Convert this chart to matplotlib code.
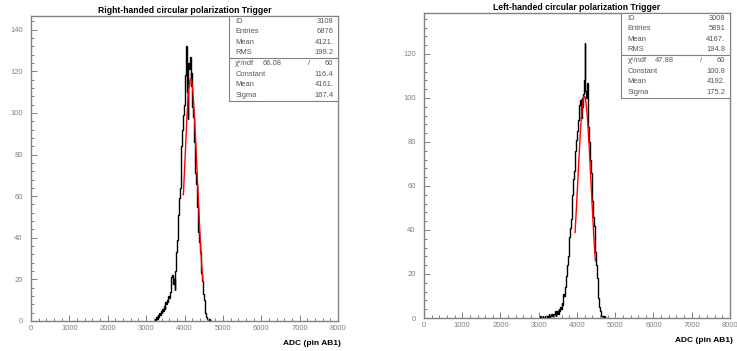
import numpy as np
import matplotlib.pyplot as plt
from matplotlib.patches import Rectangle
from matplotlib.ticker import MultipleLocator

plt.rcParams['font.family'] = ['Liberation Sans', 'DejaVu Sans']

bin_width = 20

# right-handed trigger, counts per bin starting at r_start
r_start = 3200
r_counts = [0, 1, 0, 2, 1, 3, 2, 4, 3, 5,
            4, 6, 5, 7, 6, 9, 8, 10, 9, 12,
            11, 14, 17, 21, 22, 18, 20, 15, 24, 33,
            39, 46, 51, 59, 64, 76, 84, 92, 99, 104,
            107, 118, 132, 110, 97, 124, 121, 127, 113, 119,
            103, 98, 86, 79, 71, 66, 55, 49, 43, 38,
            33, 28, 23, 19, 13, 10, 6, 4, 2, 1,
            1, 0, 1, 0, 0, 0]
r_stats = [("ID", "3108"), ("Entries", "6876"), ("Mean", "4121."), ("RMS", "199.2")]
r_chi2 = ("66.08", "60")
r_pars = [("Constant", 116.4, "116.4"), ("Mean", 4161.0, "4161."), ("Sigma", 167.4, "167.4")]
r_fit_range = (3970, 4480)

# left-handed trigger
l_start = 3000
l_counts = [0, 0, 1, 0, 0, 1, 0, 0, 1, 0,
            1, 0, 1, 2, 0, 1, 2, 1, 2, 1,
            2, 3, 1, 2, 3, 2, 4, 3, 5, 4,
            7, 6, 11, 10, 14, 17, 19, 24, 28, 34,
            37, 41, 45, 52, 56, 63, 67, 72, 76, 81,
            85, 90, 94, 97, 99, 91, 100, 96, 102, 108,
            125, 103, 100, 107, 95, 87, 80, 72, 66, 58,
            53, 46, 42, 34, 30, 24, 18, 12, 9, 5,
            3, 2, 1, 1, 0, 1, 0, 0, 0, 0]
l_stats = [("ID", "3008"), ("Entries", "5891"), ("Mean", "4167."), ("RMS", "194.8")]
l_chi2 = ("47.88", "60")
l_pars = [("Constant", 100.8, "100.8"), ("Mean", 4192.0, "4192."), ("Sigma", 175.2, "175.2")]
l_fit_range = (3950, 4480)

gray = '#808080'
txt = '#555555'


def draw(ax, start, counts, ymax, title, stats, chi2, pars, fit_range):
    edges = start + bin_width * np.arange(len(counts) + 1)
    ax.stairs(counts, edges, color='black', lw=1.0)
    const, mean, sigma = [p[1] for p in pars]
    xf = np.linspace(fit_range[0], fit_range[1], 200)
    ax.plot(xf, const * np.exp(-0.5 * ((xf - mean) / sigma) ** 2), color='red', lw=1.0)

    ax.set_xlim(0, 8000)
    ax.set_ylim(0, ymax)
    ax.xaxis.set_major_locator(MultipleLocator(1000))
    ax.xaxis.set_minor_locator(MultipleLocator(200))
    ax.yaxis.set_major_locator(MultipleLocator(20))
    ax.yaxis.set_minor_locator(MultipleLocator(4))
    ax.tick_params(which='both', direction='in', colors=gray, labelsize=5.5,
                   labelcolor=gray, width=0.7)
    ax.tick_params(which='major', length=4)
    ax.tick_params(which='minor', length=2)
    ax.tick_params(axis='y', pad=6)
    ax.tick_params(axis='x', pad=3)
    for s in ax.spines.values():
        s.set_color(gray)
        s.set_linewidth(1.0)
    ax.set_title(title, fontsize=6.2, fontweight='bold', pad=2)
    ax.text(1.01, -0.075, "ADC (pin AB1)", transform=ax.transAxes, ha='right',
            va='center', fontsize=6, fontweight='bold')

    # stats box
    x0, ymid, y0 = 0.645, 0.862, 0.722
    ax.add_patch(Rectangle((x0, y0), 1 - x0, 1 - y0, transform=ax.transAxes,
                           facecolor='white', edgecolor=gray, lw=0.8, zorder=5))
    ax.plot([x0, 1], [ymid, ymid], transform=ax.transAxes, color=gray, lw=0.8, zorder=6)
    h1 = (1 - ymid) / 4
    for i, (name, val) in enumerate(stats):
        yy = 1 - h1 * (i + 0.5)
        ax.text(x0 + 0.02, yy, name, transform=ax.transAxes, fontsize=5.4, color=txt,
                va='center', zorder=7)
        ax.text(0.985, yy, val, transform=ax.transAxes, fontsize=5.4, color=txt,
                va='center', ha='right', zorder=7)
    h2 = (ymid - y0) / 4
    rows = [("χ²/ndf", chi2[1])] + [(p[0], p[2]) for p in pars]
    for i, (name, val) in enumerate(rows):
        yy = ymid - h2 * (i + 0.5)
        ax.text(x0 + 0.02, yy, name, transform=ax.transAxes, fontsize=5.4, color=txt,
                va='center', zorder=7)
        ax.text(0.985, yy, val, transform=ax.transAxes, fontsize=5.4, color=txt,
                va='center', ha='right', zorder=7)
    yy = ymid - h2 * 0.5
    ax.text(0.785, yy, chi2[0], transform=ax.transAxes, fontsize=5.4, color=txt,
            va='center', ha='center', zorder=7)
    ax.text(0.905, yy, "/", transform=ax.transAxes, fontsize=5.4, color=txt,
            va='center', ha='center', zorder=7)


fig = plt.figure(figsize=(7.37, 3.51), dpi=100)
ax1 = fig.add_axes([0.0421, 0.0855, 0.4166, 0.869])
ax2 = fig.add_axes([0.5753, 0.094, 0.4152, 0.869])

draw(ax1, r_start, r_counts, 146.6, "Right-handed circular polarization Trigger",
     r_stats, r_chi2, r_pars, r_fit_range)
draw(ax2, l_start, l_counts, 138.6, "Left-handed circular polarization Trigger",
     l_stats, l_chi2, l_pars, l_fit_range)

fig.savefig("out.png", dpi=100)
